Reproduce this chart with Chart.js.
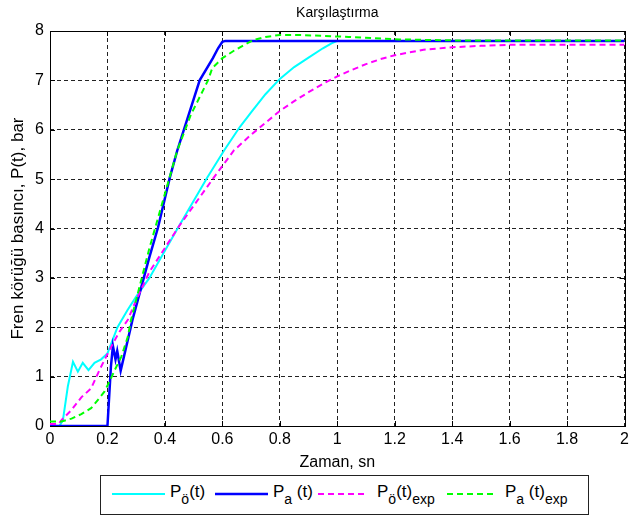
<!DOCTYPE html>
<html><head><meta charset="utf-8">
<script src="https://cdn.jsdelivr.net/npm/chart.js@4"></script>
<style>
html,body{margin:0;padding:0;background:#fff;}
#wrap{position:relative;width:633px;height:520px;overflow:hidden;}
canvas{position:absolute;left:0;top:0;}
#legend{position:absolute;left:100px;top:475px;width:487px;height:38px;border:1px solid #222;background:#fff;}
.lt{position:absolute;top:6px;font:17px 'Liberation Sans',Arial,sans-serif;line-height:20px;color:#000;white-space:nowrap;}
.lt sub{font-size:14px;vertical-align:baseline;position:relative;top:7px;}
#legend svg{position:absolute;left:0;top:0;}
</style></head>
<body>
<div id="wrap">
<canvas id="c" width="633" height="520"></canvas>
<div id="legend">
<svg width="487" height="38">
<line x1="11" y1="18" x2="64" y2="18" stroke="#00ffff" stroke-width="2"/>
<line x1="114" y1="18" x2="167" y2="18" stroke="#0000ff" stroke-width="2.5"/>
<line x1="217" y1="18" x2="267" y2="18" stroke="#ff00ff" stroke-width="2" stroke-dasharray="6,4"/>
<line x1="346" y1="18" x2="396" y2="18" stroke="#00ff00" stroke-width="2" stroke-dasharray="6,4"/>
</svg>
<span class="lt" style="left:69px">P<sub>ö</sub>(t)</span>
<span class="lt" style="left:172px">P<sub>a</sub> (t)</span>
<span class="lt" style="left:276px">P<sub>ö</sub>(t)<sub>exp</sub></span>
<span class="lt" style="left:404px">P<sub>a</sub> (t)<sub>exp</sub></span>
</div>
</div>
<script>
// ---- data (time in s, pressure in bar) ----
const tPo = [0, 0.033, 0.045, 0.062, 0.08, 0.097, 0.114, 0.134, 0.155, 0.178, 0.2, 0.235, 0.27, 0.3, 0.346, 0.446, 0.547, 0.606, 0.66, 0.7, 0.75, 0.8, 0.85, 0.9, 0.95, 0.98, 1.0, 2.0];
const pPo = [0, 0, 0.12, 0.8, 1.3, 1.1, 1.28, 1.13, 1.28, 1.35, 1.47, 2.0, 2.35, 2.62, 3.0, 4.02, 5.03, 5.58, 6.05, 6.35, 6.72, 7.03, 7.27, 7.46, 7.65, 7.75, 7.8, 7.8];

const tPa = [0, 0.2, 0.205, 0.212, 0.219, 0.228, 0.234, 0.246, 0.287, 0.346, 0.376, 0.417, 0.443, 0.521, 0.567, 0.585, 0.6, 0.61, 2.0];
const pPa = [0, 0, 0.5, 1.2, 1.62, 1.35, 1.52, 1.12, 2.15, 3.42, 4.02, 5.03, 5.58, 7.0, 7.45, 7.65, 7.78, 7.8, 7.8];

const tPoExp = [0, 0.03, 0.04, 0.074, 0.109, 0.143, 0.172, 0.195, 0.219, 0.242, 0.271, 0.3, 0.346, 0.446, 0.57, 0.64, 0.7, 0.75, 0.8, 0.85, 0.9, 0.95, 1.0, 1.05, 1.1, 1.15, 1.2, 1.3, 1.4, 1.5, 1.6, 2.0];
const pPoExp = [0.04, 0.04, 0.12, 0.32, 0.58, 0.76, 1.13, 1.4, 1.67, 1.91, 2.15, 2.55, 3.12, 4.02, 5.03, 5.58, 5.9, 6.14, 6.38, 6.58, 6.76, 6.93, 7.08, 7.21, 7.33, 7.43, 7.51, 7.62, 7.67, 7.7, 7.72, 7.72];

const tPaExp = [0, 0.04, 0.075, 0.109, 0.143, 0.167, 0.19, 0.207, 0.225, 0.248, 0.271, 0.282, 0.346, 0.443, 0.49, 0.55, 0.565, 0.6, 0.64, 0.68, 0.71, 0.75, 0.8, 0.868, 1.04, 1.215, 1.4, 2.0];
const pPaExp = [0.09, 0.09, 0.15, 0.24, 0.36, 0.53, 0.7, 0.9, 1.13, 1.4, 1.81, 2.15, 3.6, 5.58, 6.3, 7.0, 7.25, 7.45, 7.6, 7.73, 7.82, 7.88, 7.92, 7.92, 7.88, 7.83, 7.81, 7.81];

const xTicks = [0, 0.2, 0.4, 0.6, 0.8, 1, 1.2, 1.4, 1.6, 1.8, 2];
const yTicks = [0, 1, 2, 3, 4, 5, 6, 7, 8];

const titleText = 'Karşılaştırma';
const xLabel = 'Zaman, sn';
const yLabel = 'Fren körüğü basıncı, P(t), bar';

const pts = (ts, ps) => ts.map((t, i) => ({x: t, y: ps[i]}));

const frame = {
  id: 'frame',
  beforeDatasetsDraw(chart) {
    const {ctx, chartArea: a, scales: {x, y}} = chart;
    ctx.save();
    ctx.strokeStyle = '#000';
    ctx.lineWidth = 1;
    ctx.setLineDash([]);
    ctx.beginPath();
    xTicks.forEach(v => {
      const px = Math.round(x.getPixelForValue(v)) + 0.5;
      ctx.moveTo(px, a.bottom); ctx.lineTo(px, a.bottom - 5);
      ctx.moveTo(px, a.top); ctx.lineTo(px, a.top + 5);
    });
    yTicks.forEach(v => {
      const py = Math.round(y.getPixelForValue(v)) + 0.5;
      ctx.moveTo(a.left, py); ctx.lineTo(a.left + 5, py);
      ctx.moveTo(a.right, py); ctx.lineTo(a.right - 5, py);
    });
    ctx.stroke();
    ctx.strokeRect(Math.round(a.left) + 0.5, Math.round(a.top) + 0.5, Math.round(a.right - a.left), Math.round(a.bottom - a.top));
    ctx.restore();
  }
};

const font = "'Liberation Sans', Arial, sans-serif";

new Chart(document.getElementById('c'), {
  type: 'line',
  data: {
    datasets: [
      {label: 'Pö(t)', data: pts(tPo, pPo), borderColor: '#00ffff', borderWidth: 2, order: 4},
      {label: 'Pa (t)', data: pts(tPa, pPa), borderColor: '#0000ff', borderWidth: 2.5, order: 3},
      {label: 'Pö(t)exp', data: pts(tPoExp, pPoExp), borderColor: '#ff00ff', borderWidth: 2, borderDash: [6, 4], order: 2},
      {label: 'Pa (t)exp', data: pts(tPaExp, pPaExp), borderColor: '#00ff00', borderWidth: 2, borderDash: [6, 4], order: 1}
    ]
  },
  options: {
    responsive: false,
    animation: false,
    devicePixelRatio: 1,
    elements: {point: {radius: 0}, line: {tension: 0, fill: false}},
    layout: {padding: {left: 0, right: 7, top: 0, bottom: 44}},
    plugins: {
      legend: {display: false},
      tooltip: {enabled: false},
      title: {
        display: true, text: titleText, fullSize: false, color: '#000',
        font: {family: font, size: 14, weight: 'normal'},
        padding: {top: 4.6, bottom: 9.6}
      }
    },
    scales: {
      x: {
        type: 'linear', min: 0, max: 2,
        afterFit: s => { s.height = 50; },
        afterBuildTicks: s => { s.ticks = xTicks.map(v => ({value: v})); },
        ticks: {color: '#000', font: {family: font, size: 16}, padding: 4, maxRotation: 0, autoSkip: false,
                callback: v => String(v)},
        grid: {color: '#222', lineWidth: 1, drawTicks: false},
        border: {display: false, dash: [4, 3]},
        title: {display: true, text: xLabel, color: '#000', font: {family: font, size: 16}, padding: {top: 0, bottom: 3.4}}
      },
      y: {
        type: 'linear', min: 0, max: 8,
        afterFit: s => { s.width = 50; },
        afterBuildTicks: s => { s.ticks = yTicks.map(v => ({value: v})); },
        ticks: {color: '#000', font: {family: font, size: 16}, padding: 6, autoSkip: false,
                callback: v => String(v)},
        grid: {color: '#222', lineWidth: 1, drawTicks: false},
        border: {display: false, dash: [4, 3]},
        title: {display: true, text: yLabel, color: '#000', font: {family: font, size: 17}, padding: {top: 7.8, bottom: 0}}
      }
    }
  },
  plugins: [frame]
});
</script>
</body></html>
